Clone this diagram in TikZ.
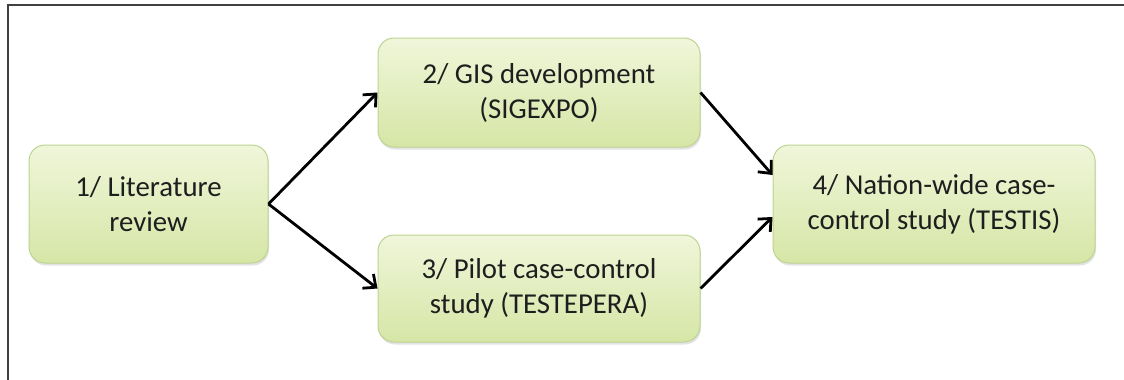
\documentclass[tikz,border=0pt]{standalone}
\usepackage{fontspec}
\setmainfont{Carlito}
\usetikzlibrary{arrows.meta,calc,shadows}
\definecolor{boxtop}{HTML}{F0F6DA}
\definecolor{boxbot}{HTML}{D6E6A6}
\definecolor{boxline}{HTML}{BDD392}
\definecolor{txt}{HTML}{1E1E1E}
\begin{document}
\begin{tikzpicture}[x=1pt,y=-1pt,
  stagebox/.style={draw=boxline, line width=1pt, rounded corners=16pt,
    top color=boxtop, bottom color=boxbot, align=center, text=txt,
    font=\fontsize{28.8}{35}\selectfont, inner sep=0pt,
    drop shadow={shadow xshift=1pt, shadow yshift=-2.5pt, opacity=0.22, fill=black!50}},
  flow/.style={line width=2.8pt, -{Straight Barb[length=10pt,width=18pt,line width=2.8pt]}}]
\useasboundingbox (0,0) rectangle (1124,380);
\draw[line width=2pt, black!75] (7.5,380) -- (7.5,5) -- (1124,5);
\node[stagebox, minimum width=239pt, minimum height=118pt] (b1) at (148.5,204) {1/ Literature\\review};
\node[stagebox, minimum width=322pt, minimum height=109pt] (b2) at (539,92.5) {2/ GIS development\\(SIGEXPO)};
\node[stagebox, minimum width=322pt, minimum height=107pt] (b3) at (539,288.5) {3/ Pilot case-control\\study (TESTEPERA)};
\node[stagebox, minimum width=322pt, minimum height=118pt] (b4) at (934,204) {4/ Nation-wide case-\\control study (TESTIS)};
\draw[flow] (b1.east) -- (b2.west);
\draw[flow] (b1.east) -- (b3.west);
\draw[flow] (b2.east) -- ($(b4.west)+(0,-29)$);
\draw[flow] (b3.east) -- ($(b4.west)+(0,13)$);
\end{tikzpicture}
\end{document}
